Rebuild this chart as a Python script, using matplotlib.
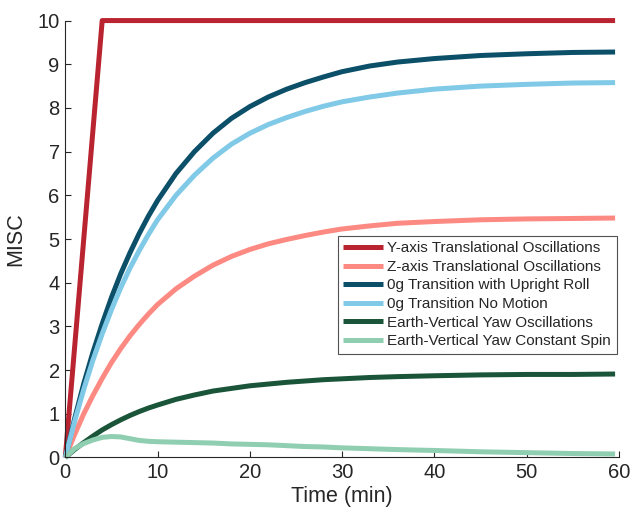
import matplotlib
matplotlib.use("Agg")
import matplotlib.pyplot as plt

plt.rcParams['font.family'] = ['Liberation Sans', 'DejaVu Sans']

t = [0, 1, 2, 3, 4, 5, 6, 7, 8, 9, 10, 12, 14, 16, 18, 20, 22, 24, 26, 28, 30, 33, 36, 40, 45, 50, 55, 59.6]

t_y_axis = [0, 4, 59.6]
y_axis_trans = [0, 10, 10]
z_axis_trans = [0, 0.52, 1.0, 1.42, 1.81, 2.17, 2.49, 2.78, 3.04, 3.28, 3.5, 3.86, 4.15, 4.4, 4.6, 4.76, 4.89, 4.99, 5.08, 5.16, 5.23, 5.3, 5.36, 5.4, 5.44, 5.46, 5.47, 5.48]
og_upright_roll = [0, 0.88, 1.69, 2.41, 3.06, 3.66, 4.2, 4.68, 5.12, 5.52, 5.88, 6.5, 7.0, 7.42, 7.76, 8.03, 8.25, 8.43, 8.58, 8.71, 8.83, 8.96, 9.05, 9.13, 9.2, 9.24, 9.27, 9.28]
og_no_motion = [0, 0.82, 1.56, 2.23, 2.83, 3.38, 3.88, 4.33, 4.73, 5.1, 5.44, 6.0, 6.46, 6.85, 7.17, 7.42, 7.62, 7.78, 7.92, 8.04, 8.14, 8.25, 8.34, 8.43, 8.5, 8.54, 8.57, 8.58]
ev_yaw_osc = [0, 0.18, 0.34, 0.49, 0.63, 0.75, 0.86, 0.96, 1.05, 1.13, 1.2, 1.33, 1.43, 1.52, 1.58, 1.64, 1.68, 1.72, 1.75, 1.78, 1.8, 1.83, 1.85, 1.87, 1.89, 1.9, 1.9, 1.91]
ev_yaw_spin = [0, 0.2, 0.32, 0.4, 0.46, 0.48, 0.47, 0.43, 0.39, 0.37, 0.36, 0.35, 0.34, 0.33, 0.31, 0.30, 0.29, 0.27, 0.25, 0.24, 0.22, 0.2, 0.18, 0.16, 0.13, 0.11, 0.09, 0.08]

labels = ["Y-axis Translational Oscillations",
          "Z-axis Translational Oscillations",
          "0g Transition with Upright Roll",
          "0g Transition No Motion",
          "Earth-Vertical Yaw Oscillations",
          "Earth-Vertical Yaw Constant Spin"]
colors = ["#BA2430", "#FC8A82", "#0B4F69", "#80C9E7", "#1A553A", "#8FCEB0"]

fig = plt.figure(figsize=(6.34, 5.14), dpi=100)
ax = fig.add_axes([0.103, 0.11, 0.873, 0.85])

lw = 3.6
series = [(t_y_axis, y_axis_trans), (t, z_axis_trans), (t, og_upright_roll),
          (t, og_no_motion), (t, ev_yaw_osc), (t, ev_yaw_spin)]
for (xs, ys), c, lab in zip(series, colors, labels):
    ax.plot(xs, ys, color=c, lw=lw, label=lab, solid_capstyle='butt',
            solid_joinstyle='round', clip_on=False)

ax.set_xlim(0, 60)
ax.set_ylim(0, 10)
ax.set_xticks(range(0, 61, 10))
ax.set_yticks(range(0, 11))
ax.spines['top'].set_visible(False)
ax.spines['right'].set_visible(False)
for s in ['left', 'bottom']:
    ax.spines[s].set_color('#262626')
    ax.spines[s].set_linewidth(0.8)
ax.tick_params(direction='in', length=4, width=0.8, colors='#262626', labelsize=14.5, pad=4)
ax.set_xlabel("Time (min)", fontsize=15.5, color='#262626', labelpad=3)
ax.set_ylabel("MISC", fontsize=15.5, color='#262626', labelpad=8)

leg = ax.legend(loc='upper right', bbox_to_anchor=(0.996, 0.507), borderaxespad=0,
                fontsize=11, frameon=True, fancybox=False, handlelength=2.6,
                labelspacing=0.3, handletextpad=0.3, borderpad=0.35)
leg.get_frame().set_edgecolor('#262626')
leg.get_frame().set_linewidth(0.8)
for txt in leg.get_texts():
    txt.set_color('#262626')

fig.savefig("out.png", dpi=100)
